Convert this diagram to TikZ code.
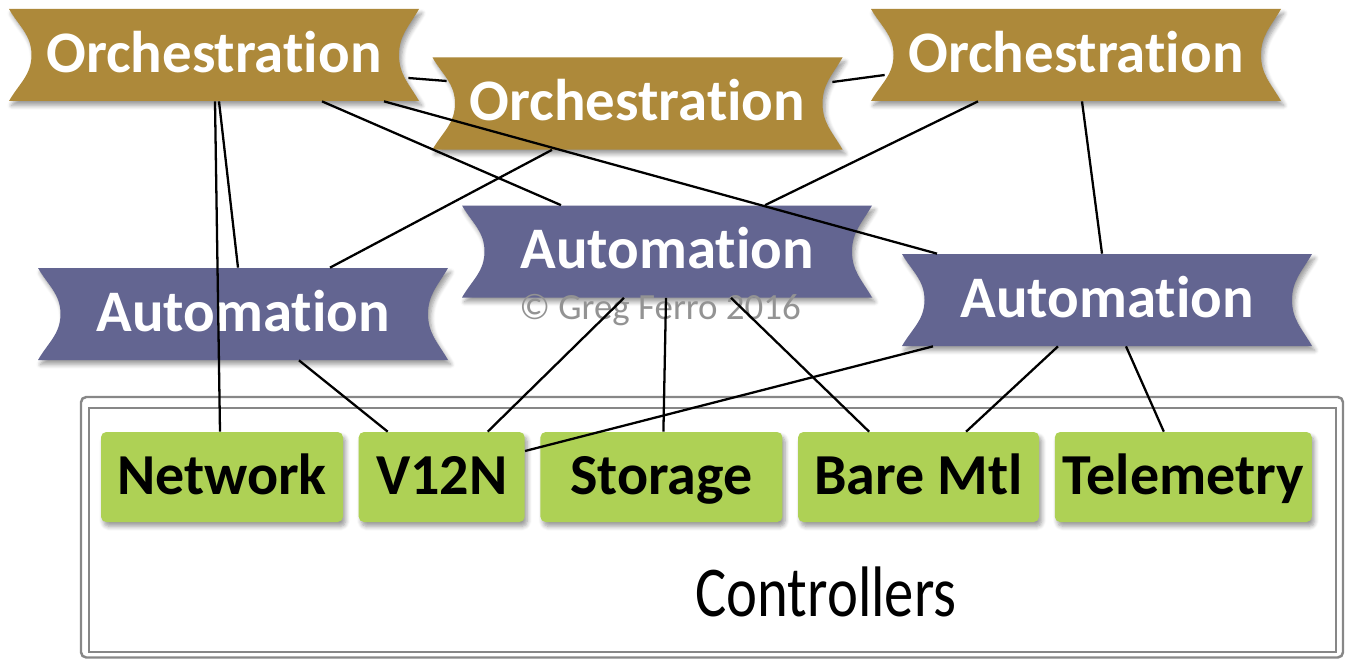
\documentclass[tikz,border=0pt]{standalone}
\usepackage{fontspec}
\setmainfont{Carlito}[Ligatures=NoCommon]
\usetikzlibrary{positioning,calc,shadows.blur}
\definecolor{orchbrown}{RGB}{173,137,58}
\definecolor{autopurple}{RGB}{99,101,145}
\definecolor{ctrlgreen}{RGB}{174,209,85}
\definecolor{framegray}{RGB}{135,135,135}
\tikzset{
  softshadow/.style = {blur shadow={shadow xshift=1.5pt, shadow yshift=-2.5pt,
                       shadow blur radius=2.5pt, shadow blur steps=6, shadow opacity=40}},
  banner/.style   = {minimum width=8.2cm, minimum height=1.84cm, inner sep=0pt,
                     text height=.9cm, text depth=.21cm,
                     text=white, font=\bfseries\fontsize{33.5}{36}\selectfont},
  ctrlbox/.style  = {fill=ctrlgreen, rounded corners=3pt, minimum height=1.8cm,
                     inner sep=0pt, text height=.9cm, text depth=.21cm,
                     font=\bfseries\fontsize{33}{36}\selectfont, softshadow},
  link/.style     = {line width=1.3pt},
  frame/.style    = {draw=framegray, line width=1.4pt},
}
% ribbon outline round a centre point, 8.2cm x 1.84cm
\newcommand{\ribbon}[2]{%
  \fill[#2, softshadow] ($(#1)+(-4.1,.92)$) -- ($(#1)+(4.1,.92)$)
    to[out=-120,in=90] ($(#1)+(3.7,0)$)
    to[out=-90,in=120] ($(#1)+(4.1,-.92)$) -- ($(#1)+(-4.1,-.92)$)
    to[out=60,in=-90] ($(#1)+(-3.65,0)$)
    to[out=90,in=-60] ($(#1)+(-4.1,.92)$) -- cycle;}

\begin{document}
\begin{tikzpicture}[x=1cm,y=1cm]
  \useasboundingbox (0,0) rectangle (26.9,13.18);

  % controllers frame
  \draw[frame, rounded corners=3pt] (1.62,0.03) rectangle (26.86,5.24);
  \draw[frame] (1.78,0.14) rectangle (26.72,5.02);
  \node[font=\fontsize{40.7}{44}\selectfont, xscale=.82, transform shape] (ctl) at (16.52,1.34) {Controllers};

  % banners
  \coordinate (o1c) at (4.28,12.08);
  \coordinate (o2c) at (12.75,11.11);
  \coordinate (o3c) at (21.52,12.08);
  \coordinate (a1c) at (4.86,6.90);
  \coordinate (a2c) at (13.34,8.15);
  \coordinate (a3c) at (22.14,7.18);
  \ribbon{o1c}{orchbrown}
  \ribbon{o2c}{orchbrown}
  \ribbon{o3c}{orchbrown}
  \ribbon{a1c}{autopurple}
  \ribbon{a2c}{autopurple}
  \ribbon{a3c}{autopurple}
  \node[banner] (o1) at (o1c) {Orchestration};
  \node[banner] (o2) at (o2c) {Orchestration};
  \node[banner] (o3) at (o3c) {Orchestration};
  \node[banner] (a1) at (a1c) {Automation};
  \node[banner] (a2) at (a2c) {Automation};
  \node[banner] (a3) at (a3c) {Automation};
  \node[text=gray!85, font=\fontsize{21}{24}\selectfont] (copy) at (13.2,6.98) {© Greg Ferro 2016};

  % controllers
  \node[ctrlbox, minimum width=4.84cm] (net) at (4.44,3.64) {Network};
  \node[ctrlbox, minimum width=3.32cm, right=0.3cm of net] (v12n) {V12N};
  \node[ctrlbox, minimum width=4.84cm, right=0.3cm of v12n] (sto) {Storage};
  \node[ctrlbox, minimum width=4.82cm, right=0.3cm of sto] (bm) {Bare Mtl};
  \node[ctrlbox, minimum width=5.14cm, right=0.3cm of bm] (tel) {Telemetry};

  % orchestration links
  \draw[link] ([xshift=.02cm]o1.south) -- ([xshift=-.04cm]net.north);
  \draw[link] ([xshift=.1cm]o1.south) -- ([xshift=-.1cm]a1.north);
  \draw[link] ([xshift=2.16cm]o1.south) -- ([xshift=-2.12cm]a2.north);
  \draw[link] ([xshift=3.4cm]o1.south) -- ([xshift=-3.4cm]a3.north);
  \draw[link] ([xshift=-.22cm,yshift=-.46cm]o1.east) -- ([xshift=.29cm,yshift=.45cm]o2.west);
  \draw[link] ([xshift=-.21cm,yshift=.43cm]o2.east) -- ([xshift=.28cm,yshift=-.4cm]o3.west);
  \draw[link] ([xshift=-1.71cm]o2.south) -- ([xshift=1.74cm]a1.north);
  \draw[link] ([xshift=-1.96cm]o3.south) -- ([xshift=1.96cm]a2.north);
  \draw[link] ([xshift=.12cm]o3.south) -- ([xshift=-.1cm]a3.north);

  % automation links
  \draw[link] ([xshift=1.12cm]a1.south) -- ([xshift=-1.08cm]v12n.north);
  \draw[link] ([xshift=-.86cm]a2.south) -- ([xshift=.92cm]v12n.north);
  \draw[link] ([xshift=-.02cm]a2.south) -- ([xshift=.04cm]sto.north);
  \draw[link] ([xshift=1.28cm]a2.south) -- ([xshift=-.99cm]bm.north);
  \draw[link] ([xshift=-3.48cm]a3.south) -- ([yshift=.52cm]v12n.east);
  \draw[link] ([xshift=-.98cm]a3.south) -- ([xshift=.95cm]bm.north);
  \draw[link] ([xshift=.38cm]a3.south) -- ([xshift=-.39cm]tel.north);
\end{tikzpicture}
\end{document}
